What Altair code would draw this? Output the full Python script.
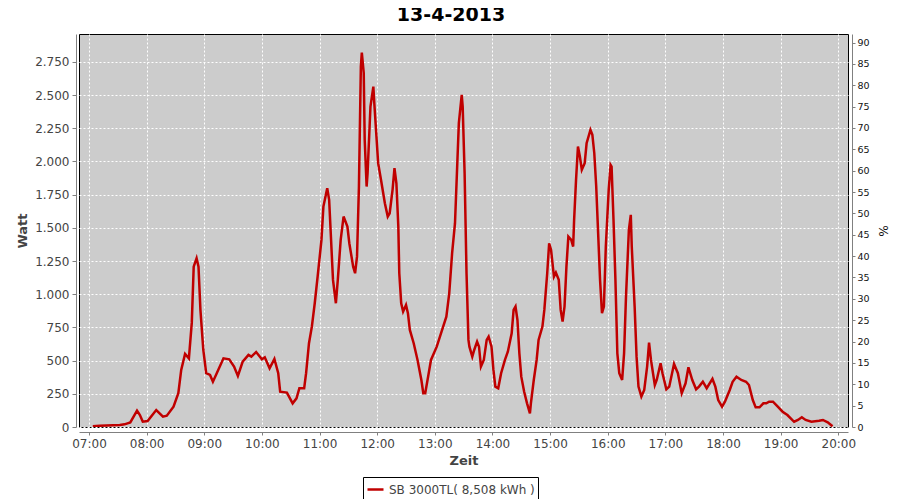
import altair as alt
import pandas as pd

title_text = "13-4-2013"
series_name = "SB 3000TL( 8,508 kWh )"

times = [
    "07:04", "07:11", "07:32", "07:37", "07:43", "07:50", "07:53", "07:56", "08:01", "08:10",
    "08:17", "08:21", "08:28", "08:33", "08:36", "08:40", "08:44", "08:47", "08:49", "08:52",
    "08:54", "08:56", "08:59", "09:02", "09:06", "09:09", "09:13", "09:20", "09:26", "09:31",
    "09:35", "09:40", "09:46", "09:49", "09:54", "10:00", "10:03", "10:08", "10:13", "10:17",
    "10:19", "10:26", "10:32", "10:36", "10:39", "10:44", "10:46", "10:49", "10:52", "10:55",
    "10:58", "11:02", "11:04", "11:08", "11:10", "11:12", "11:14", "11:17", "11:19", "11:22",
    "11:25", "11:29", "11:31", "11:35", "11:37", "11:39", "11:41", "11:43", "11:44", "11:46",
    "11:47", "11:49", "11:50", "11:53", "11:56", "11:57", "11:59", "12:01", "12:04", "12:08",
    "12:11", "12:13", "12:16", "12:18", "12:20", "12:22", "12:23", "12:25", "12:27", "12:30",
    "12:32", "12:34", "12:38", "12:42", "12:46", "12:48", "12:50", "12:53", "12:56", "13:02",
    "13:07", "13:12", "13:15", "13:18", "13:21", "13:23", "13:25", "13:28", "13:29", "13:31",
    "13:33", "13:35", "13:36", "13:39", "13:41", "13:44", "13:46", "13:48", "13:51", "13:54",
    "13:56", "13:59", "14:01", "14:03", "14:06", "14:09", "14:13", "14:16", "14:20", "14:22",
    "14:24", "14:26", "14:28", "14:30", "14:33", "14:36", "14:39", "14:40", "14:43", "14:46",
    "14:48", "14:52", "14:54", "14:57", "14:59", "15:01", "15:04", "15:06", "15:09", "15:11",
    "15:13", "15:15", "15:17", "15:19", "15:22", "15:24", "15:25", "15:27", "15:29", "15:31",
    "15:33", "15:36", "15:38", "15:42", "15:44", "15:46", "15:48", "15:50", "15:52", "15:54",
    "15:56", "15:58", "16:01", "16:03", "16:04", "16:06", "16:08", "16:10", "16:12", "16:15",
    "16:17", "16:19", "16:22", "16:24", "16:25", "16:28", "16:30", "16:32", "16:35", "16:38",
    "16:41", "16:43", "16:45", "16:49", "16:51", "16:55", "16:57", "17:01", "17:04", "17:09",
    "17:13", "17:17", "17:21", "17:24", "17:28", "17:32", "17:35", "17:39", "17:43", "17:49",
    "17:52", "17:55", "17:59", "18:02", "18:07", "18:10", "18:14", "18:19", "18:24", "18:27",
    "18:31", "18:34", "18:38", "18:42", "18:45", "18:48", "18:52", "18:57", "19:02", "19:07",
    "19:12", "19:14", "19:18", "19:22", "19:26", "19:32", "19:40", "19:44", "19:49", "19:54",
]
watts = [
    5, 10, 15, 20, 35, 123, 90, 40, 45, 128,
    78, 85, 153, 254, 430, 550, 517, 784, 1208, 1271,
    1208, 882, 580, 405, 392, 341, 405, 517, 510, 455,
    384, 492, 543, 530, 565, 510, 525, 442, 512, 405,
    266, 259, 178, 216, 292, 292, 405, 631, 756, 932,
    1133, 1409, 1660, 1799, 1711, 1409, 1108, 932, 1108, 1409,
    1585, 1509, 1384, 1208, 1158, 1283, 1811, 2715, 2820, 2665,
    2163, 1811, 1912, 2414, 2564, 2439, 2213, 1987, 1861, 1686,
    1585, 1610, 1786, 1949, 1836, 1509, 1158, 932, 869, 919,
    857, 731, 631, 505, 354, 254, 254, 379, 505, 605,
    718, 831, 1007, 1309, 1535, 1912, 2289, 2502, 2414, 1912,
    1158, 656, 605, 530, 580, 643, 605, 455, 505, 656,
    681, 605, 430, 304, 292, 405, 505, 567, 706, 882,
    907, 806, 555, 379, 266, 178, 103, 178, 354, 505,
    656, 756, 882, 1158, 1384, 1334, 1133, 1163, 1108, 882,
    794, 907, 1208, 1434, 1409, 1359, 1560, 1861, 2112, 2037,
    1937, 1987, 2137, 2238, 2200, 2062, 1811, 1460, 1108, 857,
    907, 1359, 1786, 1974, 1962, 1560, 1108, 555, 405, 354,
    555, 982, 1485, 1598, 1359, 907, 530, 304, 229, 279,
    455, 635, 505, 316, 354, 480, 405, 284, 304, 475,
    405, 254, 329, 450, 354, 284, 304, 341, 292, 362,
    304, 203, 153, 191, 279, 341, 379, 354, 341, 316,
    203, 148, 148, 178, 178, 191, 191, 153, 115, 90,
    53, 40, 53, 73, 53, 40, 47, 53, 35, 5,
]

watt_ticks = list(range(0, 2751, 250))
pct_ticks = list(range(0, 91, 5))
hour_ticks = list(range(7, 21))
watt_domain = [0, 2960]
pct_domain = [0, 92]

df = pd.DataFrame({
    "t": ["2013-04-13T" + t for t in times],
    "w": watts,
    "s": series_name,
})
pct_df = pd.DataFrame({"pct": pct_domain})
title_df = pd.DataFrame({"title": [title_text]})

x_scale = alt.Scale(domain=[
    alt.DateTime(year=2013, month=4, date=13, hours=6, minutes=49, seconds=36),
    alt.DateTime(year=2013, month=4, date=13, hours=20, minutes=10, seconds=6),
])

x_axis = alt.Axis(
    title="Zeit",
    values=[alt.DateTime(year=2013, month=4, date=13, hours=h) for h in hour_ticks],
    format="%H:%M",
    formatType="time",
    grid=True,
    gridColor="white",
    gridDash=[2, 2],
    gridWidth=1,
    domainColor="#808080",
    tickColor="#808080",
    tickSize=3,
    offset=5,
    labelFont="DejaVu Sans",
    labelFontSize=12,
    labelColor="#444444",
    labelPadding=3,
    labelFlush=False,
    labelOverlap=False,
    titleFont="DejaVu Sans",
    titleFontSize=13,
    titleFontWeight="bold",
    titleColor="#444444",
    titlePadding=5,
)

y_axis = alt.Axis(
    title="Watt",
    values=watt_ticks,
    labelExpr="replace(format(datum.value, ',d'), ',', '.')",
    grid=True,
    gridColor="white",
    gridDash=[2, 2],
    gridWidth=1,
    domainColor="#808080",
    tickColor="#808080",
    tickSize=4,
    offset=3,
    labelFont="DejaVu Sans",
    labelFontSize=12,
    labelColor="#444444",
    labelPadding=3,
    labelOverlap=False,
    titleFont="DejaVu Sans",
    titleFontSize=13,
    titleFontWeight="bold",
    titleColor="#444444",
    titlePadding=5,
)

pct_axis = alt.Axis(
    title="%",
    orient="right",
    values=pct_ticks,
    grid=False,
    domainColor="#808080",
    tickColor="#808080",
    tickSize=3,
    offset=4,
    labelFont="DejaVu Sans",
    labelFontSize=9.5,
    labelColor="#111111",
    labelPadding=2,
    labelOverlap=False,
    titleFont="DejaVu Sans",
    titleFontSize=12,
    titleFontWeight="normal",
    titleColor="#111111",
    titlePadding=6,
)

line = alt.Chart(df).mark_line(strokeWidth=2.5, clip=True).encode(
    x=alt.X("t:T", scale=x_scale, axis=x_axis),
    y=alt.Y("w:Q", scale=alt.Scale(domain=watt_domain, nice=False), axis=y_axis),
    color=alt.Color(
        "s:N",
        scale=alt.Scale(range=["#C00000"]),
        legend=alt.Legend(
            title=None,
            orient="none",
            legendX=284,
            legendY=443,
            symbolType="stroke",
            symbolSize=256,
            symbolStrokeWidth=2.5,
            labelFont="DejaVu Sans",
            labelFontSize=12,
            labelColor="#444444",
            strokeColor="black",
            padding=3,
            fillColor="white",
        ),
    ),
)

right = alt.Chart(pct_df).mark_point(opacity=0, size=1).encode(
    y=alt.Y("pct:Q", scale=alt.Scale(domain=pct_domain, nice=False), axis=pct_axis),
)

title_mark = alt.Chart(title_df).mark_text(
    font="DejaVu Sans",
    fontSize=19,
    fontWeight="bold",
    color="black",
    align="center",
    baseline="alphabetic",
).encode(
    text="title:N",
    x=alt.value(372),
    y=alt.value(-13),
)

chart = alt.layer(line, right, title_mark).resolve_scale(y="independent").properties(
    width=769,
    height=393,
    autosize="none",
    background="white",
    padding={"left": 71, "top": 26, "right": 44, "bottom": 72},
).configure_view(
    fill="#CCCCCC",
    stroke="black",
    strokeWidth=1,
)

chart.save("out.html", embed_options={"renderer": "svg", "actions": False})
